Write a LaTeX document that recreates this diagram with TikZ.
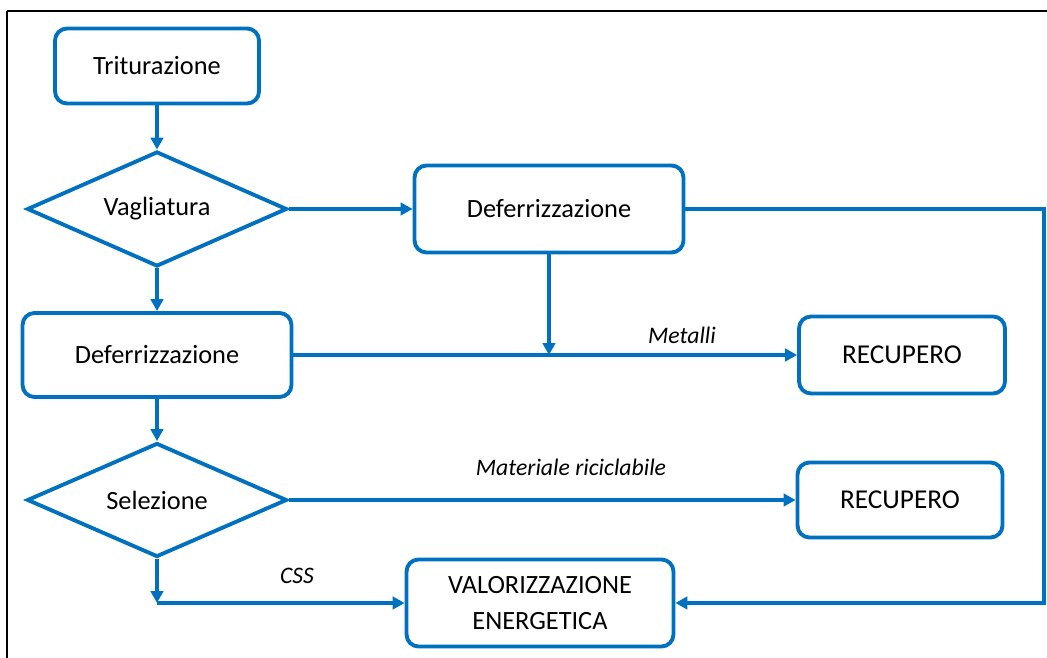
\documentclass[tikz,border=0pt]{standalone}
\usepackage{fontspec}
\setmainfont{Carlito}
\usetikzlibrary{calc}
\usetikzlibrary{positioning}
\usetikzlibrary{shapes.geometric}
\usetikzlibrary{arrows.meta}
\definecolor{flowblue}{RGB}{0,112,192}

\begin{document}
\begin{tikzpicture}[x=0.02cm, y=-0.02cm,
  box/.style={draw=flowblue, line width=2.2pt, rounded corners=0.24cm, fill=white,
    align=center, font=\fontsize{15}{17}\selectfont},
  choice/.style={draw=flowblue, line width=2.2pt, diamond, shape aspect=2.26, fill=white, inner sep=0pt,
    minimum width=5.2cm, minimum height=2.3cm, font=\fontsize{15}{17}\selectfont},
  flow/.style={draw=flowblue, line width=2.2pt, -{Triangle[length=0.24cm, width=0.25cm]}},
  tag/.style={font=\fontsize{13.5}{15}\selectfont\itshape}]

\useasboundingbox (0,0) rectangle (1047,658);

\newcommand{\xMain}{157}   % asse della colonna di sinistra
\newcommand{\xRight}{1044} % ritorno a destra

% cornice
\draw[black, line width=1.4pt] (7,11) -- (1047,11);
\draw[black, line width=1.4pt] (7,11) -- (7,658);

\node[box, minimum width=4.08cm, minimum height=1.5cm] (trit) at (\xMain,66) {Triturazione};
\node[choice] (vagl) at (\xMain,209) {Vagliatura};
\node[box, minimum width=5.38cm, minimum height=1.74cm] (defA) at (549,209) {Deferrizzazione};
\node[box, minimum width=5.38cm, minimum height=1.68cm] (defB) at (\xMain,355) {Deferrizzazione};
\node[box, minimum width=4.12cm, minimum height=1.54cm, font=\fontsize{15.5}{17}\selectfont] (recA) at (902,355) {RECUPERO};
\node[choice, minimum height=2.28cm] (sele) at (\xMain,500) {Selezione};
\node[box, minimum width=4.1cm, minimum height=1.5cm, font=\fontsize{15.5}{17}\selectfont] (recB) at (900,500) {RECUPERO};
\node[box, minimum width=5.34cm, minimum height=1.74cm, font=\fontsize{15}{20}\selectfont] (valo) at (540,603) {VALORIZZAZIONE\\ENERGETICA};

\coordinate (RT) at (\xRight,209);
\coordinate (RB) at (\xRight,603);
\coordinate (SB) at (\xMain,603);

\draw[flow] (trit) -- (vagl);
\draw[flow] (vagl) -- (defA);
\draw[flow] (vagl) -- (defB);
\draw[flow] (defB) -- (sele);

\draw[flow] (defA.south) -- (defA.south |- defB.east);
\draw[flow] (defB.east) -- (recA.west);
\draw[flow] (sele.east) -- (recB.west);

\draw[flow] (sele.south) -- (SB);
\draw[flow] (SB) -- (valo.west);
\draw[flow] (defA.east) -- (RT) -- (RB) -- (valo.east);

\node[tag] (metal) at (682,335) {Metalli};
\node[tag] (ricic) at (571,467) {Materiale riciclabile};
\node[tag] (css) at (297,576) {CSS};

\end{tikzpicture}
\end{document}
